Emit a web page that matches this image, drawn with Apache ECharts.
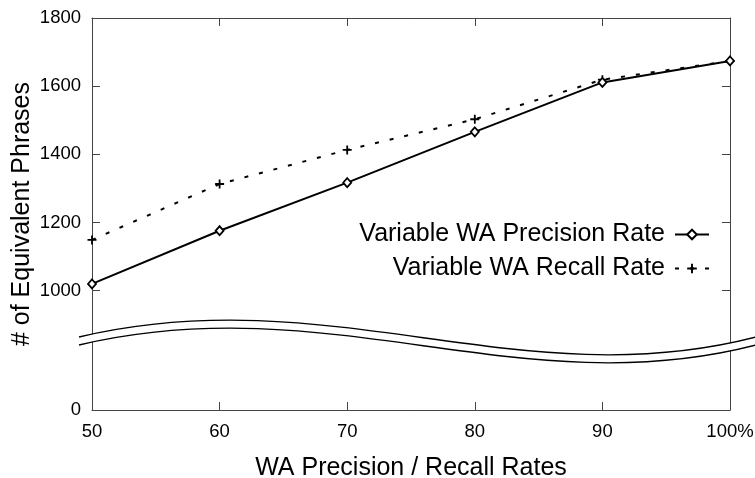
<!DOCTYPE html>
<html>
<head>
<meta charset="utf-8">
<script src="https://cdn.jsdelivr.net/npm/echarts@6/dist/echarts.min.js"></script>
<style>
html,body{margin:0;padding:0;background:#fff;}
#chart{width:755px;height:478px;}
</style>
</head>
<body>
<div id="chart"></div>
<script>
// ---- data ----
var xValues = [50, 60, 70, 80, 90, 100];
var precisionRate = [1020, 1176, 1317, 1466, 1611, 1674];
var recallRate = [1149, 1313, 1413, 1503, 1619, 1674];
var seriesNames = ['Variable WA Precision Rate', 'Variable WA Recall Rate'];
// broken y axis: the bottom of the axis (BREAK_BASE) stands for 0
var BREAK_BASE = 650;
var yTickValues = [BREAK_BASE, 1000, 1200, 1400, 1600, 1800];
var yTickLabels = ['0', '1000', '1200', '1400', '1600', '1800'];
var xTickLabelMax = '100%';

function pairs(xs, ys) { return xs.map(function (x, i) { return [x, ys[i]]; }); }

var FONT = 'Liberation Sans';
var axisColor = '#444';

var chart = echarts.init(document.getElementById('chart'), null, {renderer: 'canvas'});

function yLabel(v) {
  var i = yTickValues.indexOf(v);
  return i >= 0 ? yTickLabels[i] : '';
}

var plusPath = 'path://M4,0H6V4H10V6H6V10H4V6H0V4H4Z';

// wave break decoration (upper curve, lower curve offset)
function wave(dy, color, width, z) {
  return {
    type: 'bezierCurve', z: z, silent: true,
    shape: {x1: 79, y1: 337 + dy, cpx1: 330, cpy1: 278 + dy, cpx2: 520, cpy2: 398 + dy, x2: 756, y2: 337 + dy},
    style: {stroke: color, lineWidth: width, fill: null}
  };
}

var option = {
  backgroundColor: '#fff',
  animation: false,
  grid: {left: 92, right: 25, top: 18, bottom: 68, containLabel: false, outerBoundsMode: 'none'},
  legend: {
    orient: 'vertical',
    right: 40,
    top: 217,
    align: 'right',
    itemWidth: 34,
    itemHeight: 12,
    itemGap: 9,
    textStyle: {fontFamily: FONT, fontSize: 25, color: '#000', padding: [0, 5, 0, 0]},
    data: seriesNames
  },
  xAxis: [{
    type: 'value', min: 50, max: 100, interval: 10, position: 'bottom',
    name: 'WA Precision / Recall Rates', nameLocation: 'middle', nameGap: 46,
    nameMoveOverlap: false,
    nameTextStyle: {fontFamily: FONT, fontSize: 25, color: '#000'},
    axisLine: {show: true, lineStyle: {color: axisColor, width: 1}},
    axisTick: {show: true, inside: true, length: 8, lineStyle: {color: axisColor}},
    axisLabel: {fontFamily: FONT, fontSize: 18.5, color: '#000', margin: 12,
      formatter: function (v) { return v === 100 ? xTickLabelMax : String(v); }},
    splitLine: {show: false}
  }, {
    type: 'value', min: 50, max: 100, interval: 10, position: 'top',
    axisLine: {show: true, lineStyle: {color: axisColor, width: 1}},
    axisTick: {show: true, inside: true, length: 8, lineStyle: {color: axisColor}},
    axisLabel: {show: false},
    splitLine: {show: false}
  }],
  yAxis: [{
    type: 'value', min: BREAK_BASE, max: 1800, position: 'left',
    name: '# of Equivalent Phrases', nameLocation: 'middle', nameGap: 57,
    nameMoveOverlap: false,
    nameTextStyle: {fontFamily: FONT, fontSize: 25, color: '#000'},
    axisLine: {show: true, lineStyle: {color: axisColor, width: 1}},
    axisTick: {show: true, inside: true, length: 8, customValues: yTickValues, lineStyle: {color: axisColor}},
    axisLabel: {fontFamily: FONT, fontSize: 18.5, color: '#000', margin: 11,
      customValues: yTickValues, formatter: yLabel},
    splitLine: {show: false}
  }, {
    type: 'value', min: BREAK_BASE, max: 1800, position: 'right',
    axisLine: {show: true, lineStyle: {color: axisColor, width: 1}},
    axisTick: {show: true, inside: true, length: 8, customValues: yTickValues, lineStyle: {color: axisColor}},
    axisLabel: {show: false},
    splitLine: {show: false}
  }],
  series: [{
    name: seriesNames[0], type: 'line', xAxisIndex: 0, yAxisIndex: 0,
    data: pairs(xValues, precisionRate),
    symbol: 'diamond', symbolSize: [8, 9], showAllSymbol: true,
    lineStyle: {color: '#000', width: 2, type: 'solid'},
    itemStyle: {color: '#fff', borderColor: '#000', borderWidth: 1.8},
    z: 3
  }, {
    name: seriesNames[1], type: 'line', xAxisIndex: 0, yAxisIndex: 0,
    data: pairs(xValues, recallRate),
    symbol: plusPath, symbolSize: 9, showAllSymbol: true,
    lineStyle: {color: '#000', width: 2, type: [4, 11]},
    itemStyle: {color: '#000', borderWidth: 0},
    z: 2
  }],
  graphic: [
    {
      type: 'group', z: 100, silent: true,
      children: [
        wave(4, '#fff', 7.5, 100),
        wave(0, '#000', 1.3, 101),
        wave(8, '#000', 1.3, 101)
      ]
    }
  ]
};
chart.setOption(option);
</script>
</body>
</html>
